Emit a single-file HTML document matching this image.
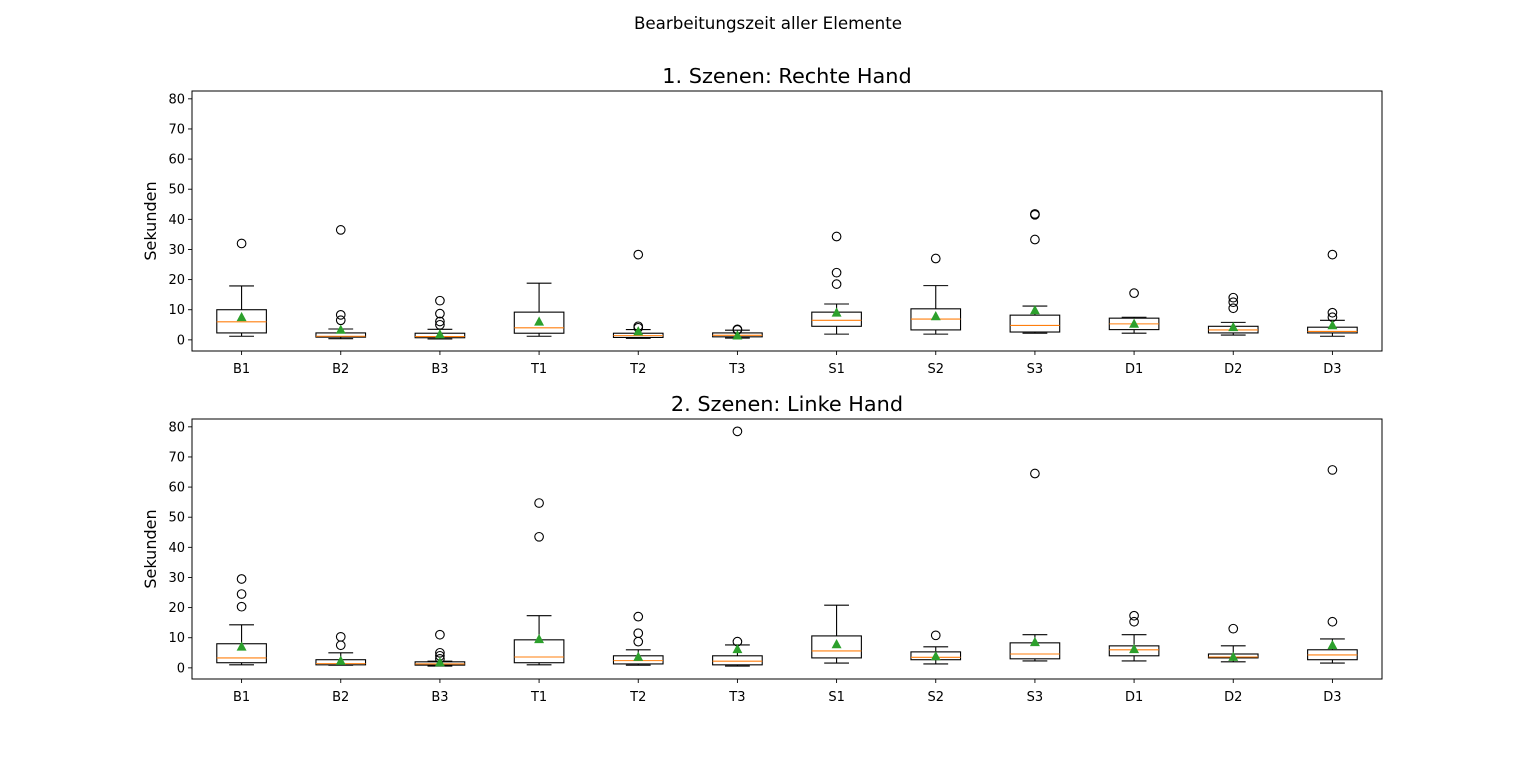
<!DOCTYPE html>
<html><head><meta charset="utf-8"><style>
body{margin:0;background:#fff}
svg text{font-family:"DejaVu Sans","Liberation Sans",sans-serif}
</style></head><body>
<svg id="fig" width="1536" height="762" xmlns="http://www.w3.org/2000/svg">
<rect width="1536" height="762" fill="#fff"/>
<text x="768" y="29" text-anchor="middle" font-size="16.7">Bearbeitungszeit aller Elemente</text>
</svg>
<script>
const categories=["B1","B2","B3","T1","T2","T3","S1","S2","S3","D1","D2","D3"];
const yTicks=[0,10,20,30,40,50,60,70,80];
// panel 1: Rechte Hand
const p1WhisLo=[1.2,0.4,0.3,1.2,0.5,0.6,1.9,1.9,2.2,2.2,1.6,1.2];
const p1Q1=[2.3,0.9,0.7,2.2,0.8,1.0,4.5,3.3,2.6,3.4,2.3,2.3];
const p1Median=[6,1.2,1.1,4,1.4,1.5,6.5,6.9,4.8,5.3,3.3,2.8];
const p1Q3=[10,2.3,2.2,9.2,2.2,2.3,9.2,10.3,8.2,7.2,4.5,4.2];
const p1WhisHi=[17.9,3.6,3.5,18.8,3.4,3.2,11.9,18,11.2,7.5,5.8,6.5];
const p1Mean=[7.5,3.3,1.8,6,2.8,1.4,9,7.8,9.8,5.3,4.2,4.8];
const p1Fliers=[[32],[36.5,8.3,6.5],[13,8.7,6.1,5],[],[28.3,4.5,4],[3.5,3.3],[34.3,22.3,18.5],[27],[41.8,41.5,33.3],[15.5],[14,12.5,10.5],[28.3,9,7.5]];
// panel 2: Linke Hand
const p2WhisLo=[1,0.9,0.6,1,0.9,0.6,1.6,1.3,2.3,2.3,2,1.6];
const p2Q1=[1.7,1,0.9,1.7,1.3,1,3.3,2.7,3,4,3.3,2.7];
const p2Median=[3.3,1.4,1.3,3.6,2.4,2.2,5.6,3.5,4.6,6,3.6,4.3];
const p2Q3=[8,2.7,2,9.3,4,4,10.6,5.3,8.3,7.3,4.6,6];
const p2WhisHi=[14.3,5,2.2,17.3,6,7.6,20.8,7,11,11,7.3,9.6];
const p2Mean=[7,2.3,1.8,9.5,3.6,6.2,7.8,3.8,8.5,6.2,3.6,7.5];
const p2Fliers=[[29.5,24.5,20.3],[10.3,7.5],[11,5,4,3],[54.7,43.5],[17,11.5,8.7],[78.5,8.7],[],[10.8],[64.5],[17.3,15.3],[13],[65.7,15.3]];

const NS="http://www.w3.org/2000/svg";
const svg=document.getElementById('fig');
function mk(tag,attrs,parent){const e=document.createElementNS(NS,tag);for(const k in attrs)e.setAttribute(k,attrs[k]);(parent||svg).appendChild(e);return e;}
const X0=192,X1=1382,YMIN=-3.7,YMAX=82.6;
function xScale(i){return X0+(i+0.5)*(X1-X0)/categories.length;}
function drawPanel(top,title,wl,q1,med,q3,wh,mean,fl,pname){
  const H=260;
  const y=v=>top+H-(v-YMIN)/(YMAX-YMIN)*H;
  const g=mk('g',{});
  
  
  const t=mk('text',{x:787,y:top-8,'text-anchor':'middle','font-size':20.8},g);t.textContent=title;
  
  
  const yl=mk('text',{x:0,y:0,'text-anchor':'middle','font-size':16,transform:`translate(156,${top+H/2}) rotate(-90)`},g);yl.textContent='Sekunden';
  
  
  yTicks.forEach(v=>{const yy=y(v);mk('line',{x1:X0-4,x2:X0,y1:yy,y2:yy,stroke:'#000','stroke-width':0.9},g);
    const tt=mk('text',{x:X0-7,y:yy+4.5,'text-anchor':'end','font-size':13},g);tt.textContent=v;
    
    });
  const hw=(X1-X0)/categories.length*0.25, cw=hw/2;
  categories.forEach((c,i)=>{
    const cx=xScale(i);
    mk('line',{x1:cx,x2:cx,y1:top+H,y2:top+H+4,stroke:'#000','stroke-width':0.9},g);
    const tl=mk('text',{x:cx,y:top+H+22,'text-anchor':'middle','font-size':13},g);tl.textContent=c;
    
    
    const b=mk('g',{},g);
    
    
    mk('line',{x1:cx,x2:cx,y1:y(wl[i]),y2:y(q1[i]),stroke:'#000','stroke-width':1.1},b);
    mk('line',{x1:cx,x2:cx,y1:y(q3[i]),y2:y(wh[i]),stroke:'#000','stroke-width':1.1},b);
    mk('line',{x1:cx-cw,x2:cx+cw,y1:y(wl[i]),y2:y(wl[i]),stroke:'#000','stroke-width':1.1},b);
    mk('line',{x1:cx-cw,x2:cx+cw,y1:y(wh[i]),y2:y(wh[i]),stroke:'#000','stroke-width':1.1},b);
    mk('rect',{x:cx-hw,y:y(q3[i]),width:2*hw,height:y(q1[i])-y(q3[i]),fill:'none',stroke:'#000','stroke-width':1.1},b);
    mk('line',{x1:cx-hw,x2:cx+hw,y1:y(med[i]),y2:y(med[i]),stroke:'#ff7f0e','stroke-width':1.1},b);
    fl[i].forEach(v=>{mk('circle',{cx:cx,cy:y(v),r:4.3,fill:'none',stroke:'#000','stroke-width':1.1},b);});
    const my=y(mean[i]);
    mk('polygon',{points:`${cx},${my-4.5} ${cx-4.3},${my+3.5} ${cx+4.3},${my+3.5}`,fill:'#2ca02c',stroke:'#2ca02c','stroke-width':0.8},b);
  });
  mk('rect',{x:X0,y:top,width:X1-X0,height:H,fill:'none',stroke:'#000','stroke-width':1},g);
}
drawPanel(91,'1. Szenen: Rechte Hand',p1WhisLo,p1Q1,p1Median,p1Q3,p1WhisHi,p1Mean,p1Fliers,'panel-rechte-hand');
drawPanel(419,'2. Szenen: Linke Hand',p2WhisLo,p2Q1,p2Median,p2Q3,p2WhisHi,p2Mean,p2Fliers,'panel-linke-hand');
</script>
</body></html>
